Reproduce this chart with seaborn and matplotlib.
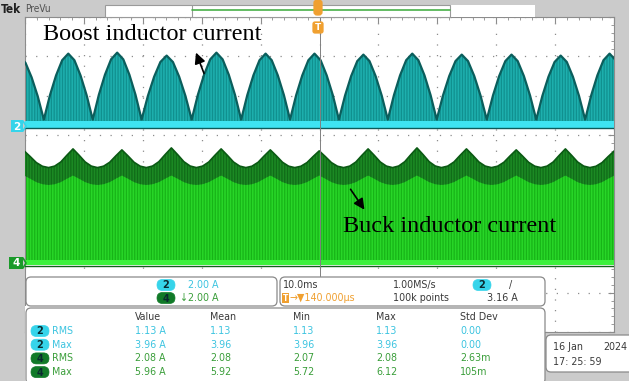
import numpy as np
import pandas as pd
import matplotlib
matplotlib.use("Agg")
import matplotlib.pyplot as plt
import seaborn as sns
from matplotlib.patches import FancyBboxPatch, Rectangle

# ---- values (10 ms/div, 2 A/div) ----
# boost current: valleys (ms from left edge) and hump peaks (A)
boost_valley_ms = [-5.1, 3.2, 11.5, 19.8, 28.3, 36.7, 45.0, 53.3, 61.6, 69.9, 78.4, 86.8, 95.1, 103.4]
boost_peak_a = [3.55, 3.7, 3.75, 3.6, 3.75, 3.7, 3.7, 3.65, 3.7, 3.65, 3.65, 3.6, 3.7]
boost_valley_a = 0.35
boost_rise = [0.0, 0.37, 0.67, 0.9, 1.0]          # valley -> peak, fraction of hump height

# buck current: dark ripple band over the flat switching envelope
buck_valley_ms = [-4.3, 4.0, 12.3, 20.6, 29.1, 37.5, 45.8, 54.1, 62.4, 70.7, 79.2, 87.6, 95.9, 104.2]
buck_peak_a = [5.7, 5.8, 5.75, 5.85, 5.8, 5.75, 5.7, 5.8, 5.85, 5.8, 5.75, 5.8, 5.7]
buck_valley_a = 4.85
buck_band_low = [3.97, 4.45]                        # lower edge of dark band: valley, peak
buck_flat_a = 4.47
buck_rise = [0.0, 0.08, 0.3, 0.66, 1.0]

ch2_zero_div = 5.22
ch4_zero_div = 1.75
amps_per_div = 2.0

# readout texts
ch_scale = [("2", "2.00 A"), ("4", "\u21932.00 A")]
meas_cols = ["Value", "Mean", "Min", "Max", "Std Dev"]
meas_rows = [
    ("2", "RMS", ["1.13 A", "1.13", "1.13", "1.13", "0.00"]),
    ("2", "Max", ["3.96 A", "3.96", "3.96", "3.96", "0.00"]),
    ("4", "RMS", ["2.08 A", "2.08", "2.07", "2.08", "2.63m"]),
    ("4", "Max", ["5.96 A", "5.92", "5.72", "6.12", "105m"]),
]


def hump_curve(valleys, peaks, low, rise):
    n = len(rise) - 1
    xs, ys = [valleys[0]], [low]
    for i, pk in enumerate(peaks):
        a, b = valleys[i], valleys[i + 1]
        half = (b - a) / 2
        for k in range(1, n + 1):
            xs.append(a + half * k / n)
            ys.append(low + rise[k] * (pk - low))
        for k in range(1, n + 1):
            xs.append(a + half + half * k / n)
            ys.append(low + rise[n - k] * (pk - low))
    return np.array(xs), np.array(ys)


def to_div(amps, zero):
    return zero + np.asarray(amps) / amps_per_div


W, H = 629, 381
sns.set_theme(style="white")
plt.rcParams["hatch.linewidth"] = 0.9
fig = plt.figure(figsize=(W / 100, H / 100), dpi=100, facecolor="#cbcbcb")

ax = fig.add_axes([25 / W, 1 - 332 / H, 589 / W, 315 / H])
ax.set_facecolor("white")
ax.set_xlim(0, 100)
ax.set_ylim(0, 8)

# boost (ch2)
bx, by = hump_curve(boost_valley_ms, boost_peak_a, boost_valley_a, boost_rise)
by = to_div(by, ch2_zero_div)
ax.fill_between(bx, ch2_zero_div, by, facecolor="#1eb0ae", edgecolor="#10908f",
                hatch="||||||", linewidth=0, zorder=2)
sns.lineplot(x=bx, y=by, ax=ax, color="#0b5e5c", lw=1.6, estimator=None, sort=False, zorder=3)
ax.fill_between([0, 100], ch2_zero_div - 0.03, ch2_zero_div + 0.14, color="#3ee4f2", lw=0, zorder=4)
sns.lineplot(x=[0, 100], y=[ch2_zero_div - 0.05] * 2, ax=ax, color="#0d5a5a", lw=1.0, zorder=4)

# buck (ch4)
ax.fill_between([0, 100], ch4_zero_div, to_div(buck_flat_a, ch4_zero_div), facecolor="#28d628",
                edgecolor="#17b417", hatch="||||||", linewidth=0, zorder=2)
tx, ty = hump_curve(buck_valley_ms, buck_peak_a, buck_valley_a, buck_rise)
lx, ly = hump_curve(buck_valley_ms, [buck_band_low[1]] * len(buck_peak_a), buck_band_low[0], buck_rise)
ax.fill_between(tx, to_div(ly, ch4_zero_div), to_div(ty, ch4_zero_div), facecolor="#1c8a24",
                edgecolor="#106c18", hatch="||||||", linewidth=0, zorder=3)
sns.lineplot(x=tx, y=to_div(ty, ch4_zero_div), ax=ax, color="#0b5a14", lw=1.2, estimator=None,
             sort=False, zorder=3)
ax.fill_between([0, 100], ch4_zero_div - 0.06, ch4_zero_div + 0.07, color="#3cf03c", lw=0, zorder=4)
sns.lineplot(x=[0, 100], y=[ch4_zero_div - 0.08] * 2, ax=ax, color="#11601a", lw=1.0, zorder=4)

# graticule
ax.set_xticks(np.arange(0, 101, 10))
ax.set_yticks(np.arange(0, 9, 1))
ax.set_xticks(np.arange(0, 101, 2), minor=True)
ax.set_yticks(np.arange(0, 8.01, 0.2), minor=True)
ax.grid(True, which="major", color="#8c8c8c", linestyle=(0, (1, 7.5)), lw=0.9, zorder=1)
ax.tick_params(which="both", direction="in", top=True, right=True, labelbottom=False,
               labelleft=False, color="#8c8c8c")
ax.tick_params(which="major", length=4, width=0.8)
ax.tick_params(which="minor", length=2.5, width=0.6)
ax.axvline(50, color="#808080", lw=0.7, zorder=5)
for s in ax.spines.values():
    s.set_color("#8c8c8c")
    s.set_linewidth(0.8)

# overlay in screen pixels
ov = fig.add_axes([0, 0, 1, 1], zorder=10)
ov.set_xlim(0, W)
ov.set_ylim(H, 0)
ov.axis("off")
ov.patch.set_alpha(0)

ui = ["DejaVu Sans"]
fs = 7.7
cyan_t, green_t, dark_t, orange_t = "#3cc4e0", "#3a9e3a", "#3a3a3a", "#f0a030"


def label(x, y, s, color=dark_t, **kw):
    ov.text(x, y, s, fontsize=kw.pop("fontsize", fs), color=color, va="center", family=ui,
            fontstretch="condensed", **kw)


def box(x0, y0, x1, y1, fc="white", ec="#8a8a8a", r=5, lw=0.9, z=1):
    ov.add_patch(FancyBboxPatch((x0, y0), x1 - x0, y1 - y0,
                                boxstyle=f"round,pad=0,rounding_size={r}",
                                fc=fc, ec=ec, lw=lw, zorder=z))


def badge(cx, cy, s, ch):
    fc = "#36d4ea" if ch == "2" else "#117a28"
    box(cx - 9, cy - 5.5, cx + 9, cy + 5.5, fc=fc, ec=fc, r=5.5, lw=0.5, z=3)
    ov.text(cx, cy + 0.5, s, ha="center", va="center", fontsize=7, fontweight="bold",
            color="#0a2a30", family=ui, zorder=4)


# top bar
ov.add_patch(Rectangle((105, 5), 430, 12, fc="white", ec="none", zorder=1))
ov.add_patch(Rectangle((105, 5), 345, 12, fc="none", ec="#9a9a9a", lw=0.8, zorder=2))
ov.plot([192, 192], [5, 17], color="#9a9a9a", lw=0.8, zorder=2)
ov.plot([192, 450], [10, 10], color="#48b048", lw=1.2, zorder=2)
ov.text(1, 9.5, "Tek", fontsize=8.5, fontweight="bold", color="#202020", va="center", family=ui,
        fontstretch="condensed")
ov.text(25, 9.5, "PreVu", fontsize=7.2, color="#505050", va="center", family=ui,
        fontstretch="condensed")
box(314, 0, 322, 15, fc=orange_t, ec=orange_t, r=3, z=3)
box(313, 22, 323, 33, fc=orange_t, ec=orange_t, r=2, z=3)
ov.text(318, 28, "T", ha="center", va="center", fontsize=6.5, fontweight="bold", color="white",
        family=ui, zorder=4)

# channel ground markers
ov.add_patch(Rectangle((11, 120), 12, 12, fc="#36d4ea", ec="none", zorder=3))
ov.text(17, 126.5, "2", ha="center", va="center", fontsize=7.5, fontweight="bold", color="white",
        family=ui, zorder=4)
ov.plot([23, 26, 23], [121, 126, 131], color="#36d4ea", lw=1.2, zorder=3)
ov.add_patch(Rectangle((9, 257), 14, 12, fc="#1a9a2a", ec="none", zorder=3))
ov.text(16, 263.5, "4", ha="center", va="center", fontsize=7.5, fontweight="bold", color="white",
        family=ui, zorder=4)
ov.plot([23, 26, 23], [258, 263, 268], color="#1a9a2a", lw=1.2, zorder=3)

# annotations
ov.text(43, 35, "Boost inductor current", fontsize=17.5, family=["Liberation Serif"],
        va="center", color="black", zorder=6)
ov.annotate("", xy=(195, 50), xytext=(205, 76),
            arrowprops=dict(arrowstyle="-|>", color="black", lw=1.2, mutation_scale=16), zorder=6)
ov.text(343, 226, "Buck inductor current", fontsize=17.5, family=["Liberation Serif"],
        va="center", color="black", zorder=6)
ov.annotate("", xy=(366, 212), xytext=(349, 187),
            arrowprops=dict(arrowstyle="-|>", color="black", lw=1.2, mutation_scale=16), zorder=6)

# readout boxes
ov.add_patch(Rectangle((25, 306), 520, 75, fc="white", ec="none", zorder=0))
box(26, 277, 277, 306)
box(280, 277, 545, 306)
box(26, 308, 545, 384)
box(546, 335, 640, 372)

for i, (ch, s) in enumerate(ch_scale):
    y = 285 + 13 * i
    badge(166, y, ch, ch)
    label(180 if i else 188, y, s, color=cyan_t if ch == "2" else green_t)

label(283, 285, "10.0ms")
label(393, 285, "1.00MS/s")
badge(482, 285, "2", "2")
label(509, 285, "/")
ov.add_patch(Rectangle((282, 293), 7, 10, fc=orange_t, ec="none", zorder=3))
ov.text(285.5, 298.5, "T", fontsize=5.5, fontweight="bold", color="white", ha="center",
        va="center", family=ui, zorder=4)
label(290, 298, "\u2192\u25bc140.000\u00b5s", color=orange_t)
label(393, 298, "100k points")
label(487, 298, "3.16 A")

col_x = [135, 210, 293, 376, 460]
for cx, c in zip(col_x, meas_cols):
    label(cx, 317, c)
for r, (ch, name, vals) in enumerate(meas_rows):
    y = 331 + 13.7 * r
    col = cyan_t if ch == "2" else green_t
    badge(40, y, ch, ch)
    label(52, y, name, color=col)
    for cx, v in zip(col_x, vals):
        label(cx, y, v, color=col)

label(553, 347, "16 Jan")
label(603, 347, "2024")
label(553, 362, "17: 25: 59")

fig.savefig("out.png", dpi=100, facecolor=fig.get_facecolor())
